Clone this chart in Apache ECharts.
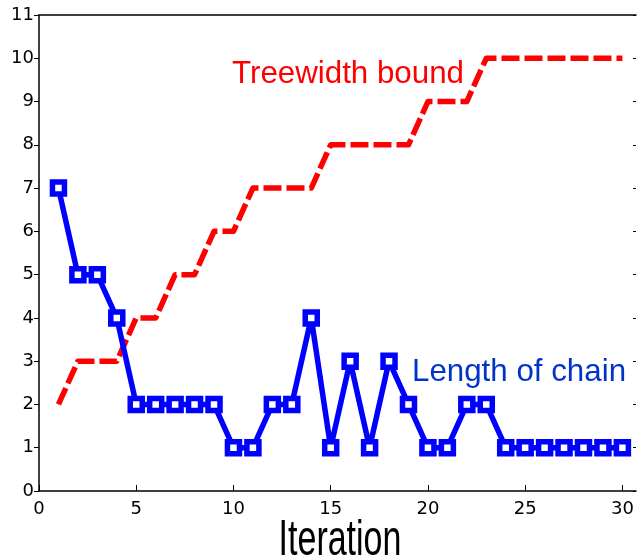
<!DOCTYPE html>
<html>
<head>
<meta charset="utf-8">
<script src="https://cdn.jsdelivr.net/npm/echarts@6/dist/echarts.min.js"></script>
<style>html,body{margin:0;padding:0;background:#fff;}#c{width:637px;height:558px;}</style>
</head>
<body>
<div id="c"></div>
<script>
const iterations = [1,2,3,4,5,6,7,8,9,10,11,12,13,14,15,16,17,18,19,20,21,22,23,24,25,26,27,28,29,30];
const chainLength = [7,5,5,4,2,2,2,2,2,1,1,2,2,4,1,3,1,3,2,1,1,2,2,1,1,1,1,1,1,1];
const treewidthBound = [2,3,3,3,4,4,5,5,6,6,7,7,7,7,8,8,8,8,8,9,9,9,10,10,10,10,10,10,10,10];
const xTicks = [0,5,10,15,20,25,30];
const yTicks = [0,1,2,3,4,5,6,7,8,9,10,11];
const xLabel = 'Iteration';
const treeLabel = 'Treewidth bound';
const chainLabel = 'Length of chain';

const chart = echarts.init(document.getElementById('c'), null, {renderer:'canvas'});
const tickFont = {fontFamily:'DejaVu Sans', fontSize:18, color:'#000'};
const axisLineStyle = {color:'#000', width:1.5};
chart.setOption({
  animation:false,
  backgroundColor:'#fff',
  grid:{left:39, top:15, right:1, bottom:67, containLabel:false},
  xAxis:[{
    type:'value', min:0, max:30.7, interval:5, position:'bottom',
    axisLine:{show:true, lineStyle:axisLineStyle, onZero:false},
    axisTick:{show:true, inside:true, length:6, lineStyle:{color:'#000', width:1}},
    axisLabel:Object.assign({margin:9, showMaxLabel:false,
      formatter:v => xTicks.indexOf(v) >= 0 ? String(v) : ''}, tickFont),
    splitLine:{show:false}
  },{
    type:'value', min:0, max:30.7, position:'top',
    axisLine:{show:true, lineStyle:axisLineStyle, onZero:false},
    axisTick:{show:false}, axisLabel:{show:false}, splitLine:{show:false}
  }],
  yAxis:[{
    type:'value', min:0, max:11, interval:1, position:'left',
    axisLine:{show:true, lineStyle:axisLineStyle, onZero:false},
    axisTick:{show:true, inside:false, length:5, lineStyle:{color:'#000', width:1}},
    axisLabel:Object.assign({margin:5,
      formatter:v => yTicks.indexOf(v) >= 0 ? String(v) : ''}, tickFont),
    splitLine:{show:false}
  },{
    type:'value', min:0, max:11, interval:1, position:'right',
    axisLine:{show:false, onZero:false},
    axisTick:{show:true, inside:true, length:3, lineStyle:{color:'#000', width:1}},
    axisLabel:{show:false}, splitLine:{show:false}
  }],
  series:[{
    type:'line', name:treeLabel,
    data:iterations.map((x,i)=>[x, treewidthBound[i]]),
    showSymbol:false, symbol:'none',
    lineStyle:{color:'#ff0000', width:5.5, type:[18,5], cap:'butt', join:'round'},
    z:2
  },{
    type:'line', name:chainLabel,
    data:iterations.map((x,i)=>[x, chainLength[i]]),
    symbol:'rect', symbolSize:12, showSymbol:true,
    lineStyle:{color:'#0000ff', width:5.5},
    itemStyle:{color:'#ffffff', borderColor:'#0000ff', borderWidth:5.5},
    z:3
  }],
  graphic:[
    {type:'text', x:232, y:74.3, style:{text:treeLabel, font:'31.3px "Liberation Sans"', fill:'#ff0000', textAlign:'left', textVerticalAlign:'middle'}},
    {type:'text', x:412, y:372, style:{text:chainLabel, font:'31.3px "Liberation Sans"', fill:'#0033cc', textAlign:'left', textVerticalAlign:'middle'}},
    {type:'text', x:340, y:556.7, scaleY:1.45, style:{text:xLabel, x:0, y:-10.5, font:'34px "Liberation Sans"', fill:'#000', textAlign:'center', textVerticalAlign:'middle'}}
  ]
});
</script>
</body>
</html>
